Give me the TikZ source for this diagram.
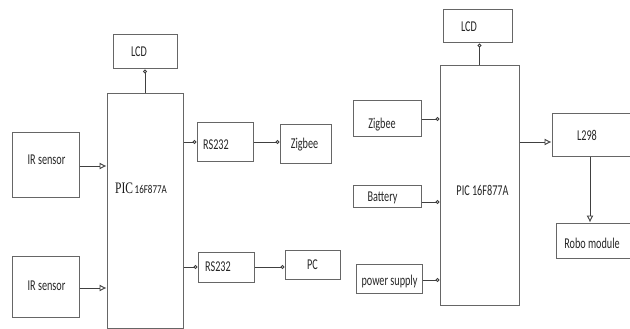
\documentclass[tikz,border=0pt]{standalone}
\usepackage{fontspec}
\setmainfont{Carlito}
\newfontfamily\serifpic{Liberation Serif}
\usetikzlibrary{arrows.meta}
\newcommand\ntxt[1]{\scalebox{0.68}[1]{#1}}
\begin{document}
\begin{tikzpicture}[x=1pt,y=-1pt,
  box/.style={draw=black!60, line width=1pt, rectangle, inner sep=0pt},
  lbl/.style={inner sep=0pt, text=black!85, font=\fontsize{15}{15}\selectfont},
  conn/.style={draw=black!75, line width=0.9pt},
  sarr/.style={conn, -{Circle[open,length=4pt,width=4pt]}},
  barr/.style={conn, -{Latex[open,length=7pt,width=7pt]}}]
\useasboundingbox (0,0) rectangle (630,329);
\clip (0,0) rectangle (630,329);
% boxes
\node[box, minimum width=67pt, minimum height=64pt] (ir1) at (45.5,165) {};
\node[box, minimum width=67pt, minimum height=61pt] (ir2) at (45.5,286.5) {};
\node[box, minimum width=76pt, minimum height=234pt] (pic1) at (145,211) {};
\node[box, minimum width=64pt, minimum height=34pt] (lcd1) at (145,52) {};
\node[box, minimum width=56pt, minimum height=38pt] (rs1) at (225,142) {};
\node[box, minimum width=51pt, minimum height=38pt] (zig1) at (305.5,144) {};
\node[box, minimum width=56pt, minimum height=30pt] (rs2) at (226,267) {};
\node[box, minimum width=55pt, minimum height=29pt] (pc) at (312.5,264.5) {};
\node[box, minimum width=79pt, minimum height=239pt] (pic2) at (479.5,185.5) {};
\node[box, minimum width=69pt, minimum height=33pt] (lcd2) at (477.5,26.5) {};
\node[box, minimum width=68pt, minimum height=36pt] (zig2) at (387,119) {};
\node[box, minimum width=68pt, minimum height=22pt] (bat) at (387,196) {};
\node[box, minimum width=66pt, minimum height=29pt] (ps) at (389,278.5) {};
\node[box, minimum width=82pt, minimum height=42pt] (l298) at (593,135) {};
\node[box, minimum width=78pt, minimum height=35pt] (robo) at (595,240.5) {};
% texts
\node[lbl] (tir1) at (46.5,160) {\ntxt{IR sensor}};
\node[lbl] (tir2) at (46.5,286) {\ntxt{IR sensor}};
\node[lbl] (tlcd1) at (139,52) {\ntxt{LCD}};
\node[inner sep=0pt, text=black!90] (tpic1) at (141,188) {\scalebox{0.72}[1]{\fontsize{16}{16}\serifpic PIC}\,\scalebox{0.75}[1]{\fontsize{12}{12}\selectfont 16F877A}};
\node[lbl] (trs1) at (216,145) {\ntxt{RS232}};
\node[lbl] (tzig1) at (304.5,145) {\ntxt{Zigbee}};
\node[lbl] (trs2) at (218,266.5) {\ntxt{RS232}};
\node[lbl] (tpc) at (312.5,265) {\ntxt{PC}};
\node[lbl] (tlcd2) at (469,27) {\ntxt{LCD}};
\node[lbl] (tzig2) at (382,125) {\ntxt{Zigbee}};
\node[lbl] (tbat) at (382.5,198) {\ntxt{Battery}};
\node[lbl] (tps) at (389.5,281) {\ntxt{power supply}};
\node[lbl] (tpic2) at (482.5,190) {\ntxt{PIC 16F877A}};
\node[lbl] (tl298) at (587,135) {\ntxt{L298}};
\node[lbl] (trobo) at (592,243) {\ntxt{Robo module}};
% connectors
\draw[barr] ([yshift=-1pt]ir1.east) -- ([yshift=-1pt]ir1.east -| pic1.west);
\draw[barr] ([yshift=-1.5pt]ir2.east) -- ([yshift=-1.5pt]ir2.east -| pic1.west);
\draw[sarr] (pic1.north) -- (lcd1.south);
\draw[sarr] (rs1.west -| pic1.east) -- (rs1.west);
\draw[sarr] (rs1.east) -- (rs1.east -| zig1.west);
\draw[sarr] (rs2.west -| pic1.east) -- (rs2.west);
\draw[sarr] (rs2.east) -- (rs2.east -| pc.west);
\draw[sarr] (pic2.north) -- (pic2.north |- lcd2.south);
\draw[sarr] (zig2.east) -- (zig2.east -| pic2.west);
\draw[sarr] ([yshift=-6pt]bat.east) -- ([yshift=-6pt]bat.east -| pic2.west);
\draw[sarr] ([yshift=-1.5pt]ps.east) -- ([yshift=-1.5pt]ps.east -| pic2.west);
\draw[barr] ([yshift=-7pt]l298.west -| pic2.east) -- ([yshift=-7pt]l298.west);
\draw[barr] ([xshift=-3pt]l298.south) -- ([xshift=-3pt]l298.south |- robo.north);
\end{tikzpicture}
\end{document}
